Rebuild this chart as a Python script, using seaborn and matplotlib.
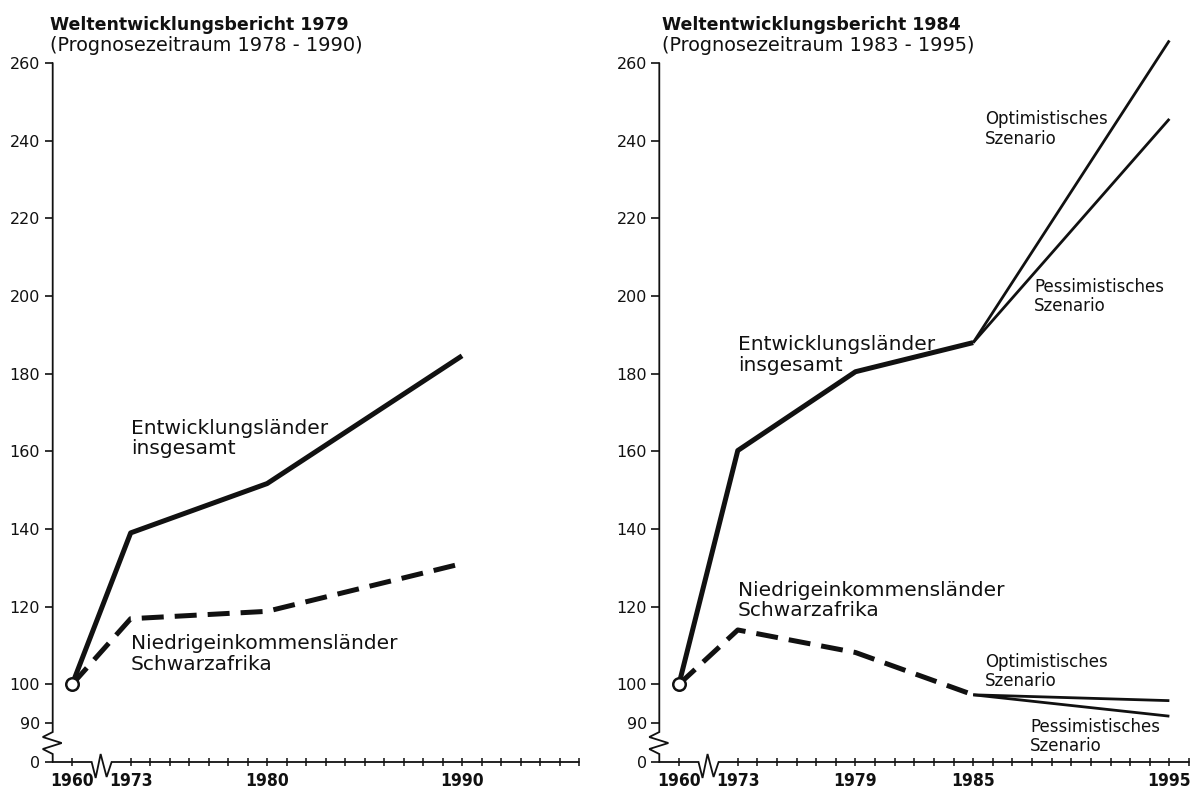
import numpy as np
import pandas as pd
import matplotlib.pyplot as plt
import seaborn as sns

# Weltentwicklungsbericht 1979 (Index 1960 = 100)
years_1979 = [1960, 1973, 1980, 1990]
total_1979 = [100, 139.0, 151.7, 184.6]
africa_1979 = [100, 116.9, 118.8, 131.1]
xlabels_1979 = [1960, 1973, 1980, 1990]

# Weltentwicklungsbericht 1984
years_1984 = [1960, 1973, 1979, 1985]
total_1984 = [100, 160.2, 180.5, 188.0]
africa_1984 = [100, 114.0, 108.2, 97.3]
scenario_years = [1985, 1995]
total_optimistic = [188.0, 265.8]
total_pessimistic = [188.0, 245.6]
africa_optimistic = [97.3, 95.8]
africa_pessimistic = [97.3, 91.8]
xlabels_1984 = [1960, 1973, 1979, 1985, 1995]

y_tick_values = [0, 90, 100, 120, 140, 160, 180, 200, 220, 240, 260]

# broken axes: 1960 sits just after the y axis, 0 sits just below 90
X_BREAK_POS = 1970.0
Y_ZERO_POS = 80.0
XLIM = (1969.0, 1996.0)
YLIM = (Y_ZERO_POS, 260.0)
INK = "#111111"
THICK = 3.6
THIN = 2.0


def xpos(years):
    return [X_BREAK_POS if y == 1960 else y for y in years]


def ypos(values):
    return [Y_ZERO_POS if v == 0 else v for v in values]


def draw_line(ax, years, values, lw=THICK, dashed=False):
    frame = pd.DataFrame({"x": xpos(years), "y": values})
    kws = dict(color=INK, lw=lw, estimator=None, sort=False, clip_on=False,
               solid_capstyle="butt", dash_capstyle="butt")
    if dashed:
        kws["linestyle"] = (0, (4.4, 2.2))
    sns.lineplot(data=frame, x="x", y="y", ax=ax, **kws)


def draw_frame(ax, labelled_years):
    ax.set_xlim(*XLIM)
    ax.set_ylim(*YLIM)
    for side in ["top", "right", "left", "bottom"]:
        ax.spines[side].set_visible(False)
    px_x = (XLIM[1] - XLIM[0]) / 527.0
    px_y = (YLIM[1] - YLIM[0]) / 700.0
    x0, y0 = XLIM[0], YLIM[0]
    frame_kw = dict(color=INK, lw=1.3, clip_on=False, solid_joinstyle="miter")
    # y axis with zigzag break
    zx = [x0, x0, x0 - 10 * px_x, x0 + 9 * px_x, x0 - 10 * px_x, x0, x0]
    zy = [y0, y0 + 8 * px_y, y0 + 13 * px_y, y0 + 19 * px_y, y0 + 25 * px_y,
          y0 + 30 * px_y, YLIM[1]]
    ax.plot(zx, zy, **frame_kw)
    # x axis with zigzag break
    bx = [x0, x0 + 39 * px_x, x0 + 43 * px_x, x0 + 48 * px_x, x0 + 54 * px_x,
          x0 + 59 * px_x, XLIM[1]]
    by = [y0, y0, y0 - 16 * px_y, y0 + 8 * px_y, y0 - 15 * px_y, y0, y0]
    ax.plot(bx, by, **frame_kw)

    ax.set_yticks(ypos(y_tick_values))
    ax.set_yticklabels([str(v) for v in y_tick_values])
    ax.set_xticks(xpos(labelled_years))
    ax.set_xticklabels([str(y) for y in labelled_years])
    minor = [y for y in range(1973, 1997) if y not in labelled_years]
    ax.set_xticks(minor, minor=True)
    ax.tick_params(axis="y", direction="out", length=5.5, width=1.2,
                   pad=3.5, labelsize=11.5, colors=INK, left=True)
    ax.tick_params(axis="x", which="both", direction="inout", length=6,
                   width=1.1, pad=4, colors=INK, bottom=True)
    for lab in ax.get_xticklabels():
        lab.set_fontweight("bold")
        lab.set_fontsize(12.5)
        lab.set_fontstretch("condensed")
    ax.set_xlabel("")
    ax.set_ylabel("")
    ax.grid(False)


def start_marker(ax):
    ax.plot([X_BREAK_POS], [100], marker="o", ms=9, mfc="white", mec=INK,
            mew=1.8, zorder=10, clip_on=False)


sns.set_theme(style="white")
plt.rcParams["font.family"] = ["DejaVu Sans"]
plt.rcParams["text.color"] = INK

fig = plt.figure(figsize=(12.04, 7.90), dpi=100)
ax_left = fig.add_axes([52.7 / 1204, 28 / 790, 526.3 / 1204, 699 / 790])
ax_right = fig.add_axes([659.3 / 1204, 28 / 790, 529.7 / 1204, 699 / 790])

label_kw = dict(va="center", ha="left", linespacing=1.1)

# left panel
draw_line(ax_left, years_1979, total_1979)
draw_line(ax_left, years_1979, africa_1979, dashed=True)
start_marker(ax_left)
draw_frame(ax_left, xlabels_1979)
ax_left.text(1973.0, 163.3, "Entwicklungsländer\ninsgesamt", fontsize=14.5,
             **label_kw)
ax_left.text(1973.0, 107.8, "Niedrigeinkommensländer\nSchwarzafrika",
             fontsize=14.5, **label_kw)

# right panel
draw_line(ax_right, years_1984, total_1984)
draw_line(ax_right, years_1984, africa_1984, dashed=True)
draw_line(ax_right, scenario_years, total_optimistic, lw=THIN)
draw_line(ax_right, scenario_years, total_pessimistic, lw=THIN)
draw_line(ax_right, scenario_years, africa_optimistic, lw=THIN)
draw_line(ax_right, scenario_years, africa_pessimistic, lw=THIN)
start_marker(ax_right)
draw_frame(ax_right, xlabels_1984)
ax_right.text(1973.0, 184.8, "Entwicklungsländer\ninsgesamt", fontsize=14.5,
              **label_kw)
ax_right.text(1973.0, 121.6, "Niedrigeinkommensländer\nSchwarzafrika",
              fontsize=14.5, **label_kw)
ax_right.text(1985.6, 243.0, "Optimistisches\nSzenario", fontsize=12,
              **label_kw)
ax_right.text(1988.1, 199.8, "Pessimistisches\nSzenario", fontsize=12,
              **label_kw)
ax_right.text(1985.6, 103.3, "Optimistisches\nSzenario", fontsize=12,
              **label_kw)
ax_right.text(1987.9, 86.6, "Pessimistisches\nSzenario", fontsize=12,
              **label_kw)

# panel headings
for x_px, title, sub in [(50, "Weltentwicklungsbericht 1979",
                          "(Prognosezeitraum 1978 - 1990)"),
                         (662, "Weltentwicklungsbericht 1984",
                          "(Prognosezeitraum 1983 - 1995)")]:
    fig.text(x_px / 1204, 1 - 30 / 790, title, fontsize=12.5,
             fontweight="bold", ha="left", va="baseline")
    fig.text(x_px / 1204, 1 - 51 / 790, sub, fontsize=13.9,
             ha="left", va="baseline")

fig.savefig("out.png", dpi=100, facecolor="white")
